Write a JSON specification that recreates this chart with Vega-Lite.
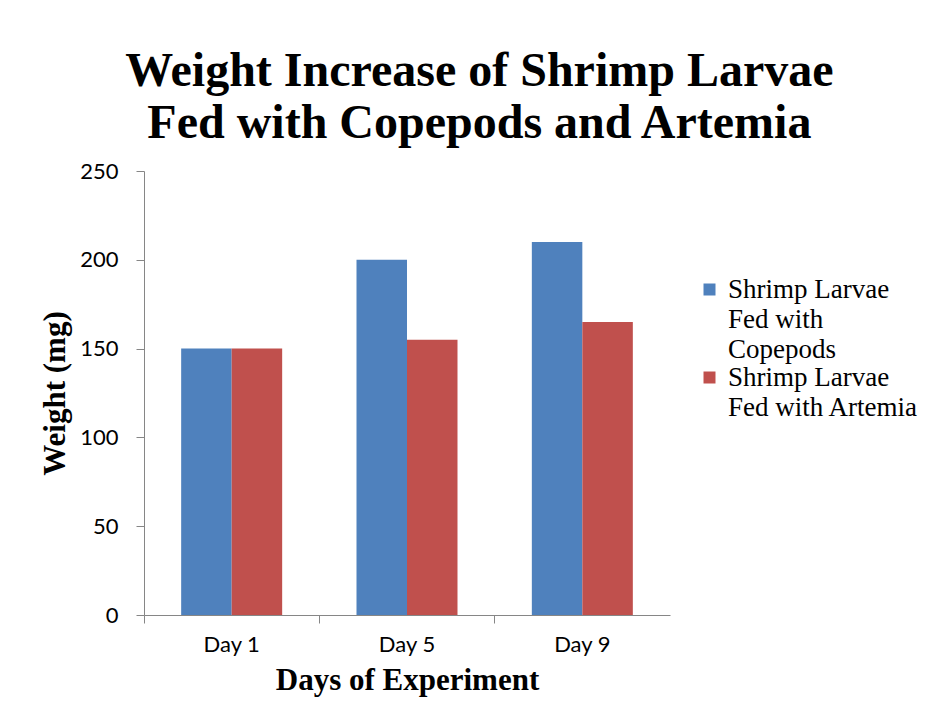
{
  "$schema": "https://vega.github.io/schema/vega-lite/v6.json",
  "width": 526,
  "height": 444,
  "padding": {"left": 39, "top": 48, "right": 5, "bottom": 5},
  "background": "white",
  "title": {
    "text": ["Weight Increase of Shrimp Larvae", "Fed with Copepods and Artemia"],
    "font": "Liberation Serif",
    "fontSize": 48,
    "fontWeight": "bold",
    "lineHeight": 52,
    "color": "black",
    "anchor": "middle",
    "frame": "bounds",
    "offset": 12
  },
  "data": {
    "values": [
      {"day": "Day 1", "group": "Shrimp Larvae Fed with Copepods", "weight": 150},
      {"day": "Day 1", "group": "Shrimp Larvae Fed with Artemia", "weight": 150},
      {"day": "Day 5", "group": "Shrimp Larvae Fed with Copepods", "weight": 200},
      {"day": "Day 5", "group": "Shrimp Larvae Fed with Artemia", "weight": 155},
      {"day": "Day 9", "group": "Shrimp Larvae Fed with Copepods", "weight": 210},
      {"day": "Day 9", "group": "Shrimp Larvae Fed with Artemia", "weight": 165}
    ]
  },
  "mark": {"type": "bar"},
  "encoding": {
    "x": {
      "field": "day",
      "type": "nominal",
      "scale": {"paddingInner": 0, "paddingOuter": 0},
      "axis": {
        "title": "Days of Experiment",
        "titleFont": "Liberation Serif",
        "titleFontSize": 31,
        "titleFontWeight": "bold",
        "titleColor": "black",
        "titlePadding": 10,
        "labelAngle": 0,
        "labelFont": "Lato",
        "labelFontSize": 22,
        "labelColor": "black",
        "labelPadding": 11,
        "bandPosition": 0,
        "tickSize": 8,
        "tickColor": "#868686",
        "domainColor": "#868686",
        "grid": false
      }
    },
    "xOffset": {
      "field": "group",
      "type": "nominal",
      "sort": ["Shrimp Larvae Fed with Copepods", "Shrimp Larvae Fed with Artemia"],
      "scale": {"paddingInner": 0, "paddingOuter": 0.736}
    },
    "y": {
      "field": "weight",
      "type": "quantitative",
      "scale": {"domain": [0, 250]},
      "axis": {
        "title": "Weight (mg)",
        "titleFont": "Liberation Serif",
        "titleFontSize": 31,
        "titleFontWeight": "bold",
        "titleColor": "black",
        "titlePadding": 8,
        "values": [0, 50, 100, 150, 200, 250],
        "labelFont": "Lato",
        "labelFontSize": 22,
        "labelColor": "black",
        "labelPadding": 18,
        "tickSize": 8,
        "tickColor": "#868686",
        "domainColor": "#868686",
        "grid": false
      }
    },
    "color": {
      "field": "group",
      "type": "nominal",
      "sort": ["Shrimp Larvae Fed with Copepods", "Shrimp Larvae Fed with Artemia"],
      "scale": {"range": ["#4F81BD", "#C0504D"]},
      "legend": {
        "title": null,
        "orient": "none",
        "legendX": 552,
        "legendY": 105,
        "symbolType": "square",
        "symbolSize": 144,
        "symbolStrokeWidth": 0,
        "labelFont": "Liberation Serif",
        "labelFontSize": 27,
        "labelColor": "black",
        "labelOffset": 5,
        "labelLimit": 400,
        "labelExpr": "datum.label == 'Shrimp Larvae Fed with Copepods' ? ['Shrimp Larvae', 'Fed with', 'Copepods'] : ['Shrimp Larvae', 'Fed with Artemia']",
        "rowPadding": 0
      }
    }
  },
  "config": {
    "view": {"stroke": null},
    "style": {"guide-label": {"lineHeight": 30}}
  }
}
